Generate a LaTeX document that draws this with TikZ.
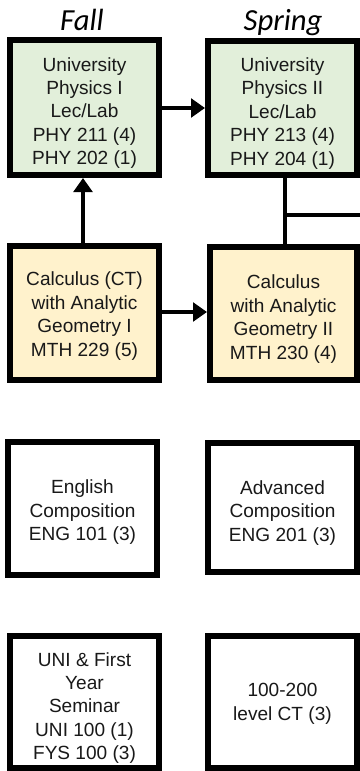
\documentclass[tikz,border=0pt]{standalone}
\usepackage{fontspec}
\setmainfont{Liberation Sans}
\newfontfamily\headfont{Carlito}
\usetikzlibrary{arrows.meta}
\definecolor{physgreen}{HTML}{E2EFDA}
\definecolor{calcyellow}{HTML}{FFF2CC}
\tikzset{
  course/.style={draw=black, line width=4.5pt, inner sep=0pt},
  coursetext/.style={align=center, inner sep=0pt,
    font=\fontsize{14.3}{17.6}\selectfont, text=black!90},
  semester/.style={font=\headfont\itshape\fontsize{23}{25}\selectfont, inner sep=0pt},
  link/.style={line width=2.6pt, -{Triangle[length=10.5pt,width=14pt]}},
  plainlink/.style={line width=2.6pt}
}
\begin{document}
\begin{tikzpicture}[x=0.75pt,y=-0.75pt]
\useasboundingbox (0,0) rectangle (360,771);
\fill[white] (0,0) rectangle (360,771);
% headings
\node[semester, anchor=base] (fall) at (82,31) {Fall};
\node[semester, anchor=base] (spring) at (283,31) {Spring};
% course boxes
\node[course, fill=physgreen, minimum width=149*0.75pt, minimum height=135*0.75pt] (p1) at (84.5,107.5) {};
\node[course, fill=physgreen, minimum width=149*0.75pt, minimum height=134*0.75pt] (p2) at (282.5,108) {};
\node[course, fill=calcyellow, minimum width=149*0.75pt, minimum height=134*0.75pt] (c1) at (84.5,313) {};
\node[course, fill=calcyellow, minimum width=147*0.75pt, minimum height=133*0.75pt] (c2) at (283.5,313.5) {};
\node[course, fill=white, minimum width=149*0.75pt, minimum height=133*0.75pt] (e1) at (82.5,508.5) {};
\node[course, fill=white, minimum width=149*0.75pt, minimum height=129*0.75pt] (e2) at (282.5,507.5) {};
\node[course, fill=white, minimum width=149*0.75pt, minimum height=132*0.75pt] (u1) at (84.5,702) {};
\node[course, fill=white, minimum width=149*0.75pt, minimum height=132*0.75pt] (u2) at (282.5,702) {};
% course texts
\node[coursetext] (p1t) at (84.5,113) {University\\Physics I\\Lec/Lab\\PHY 211 (4)\\PHY 202 (1)};
\node[coursetext] (p2t) at (282.5,113.5) {University\\Physics II\\Lec/Lab\\PHY 213 (4)\\PHY 204 (1)};
\node[coursetext] (c1t) at (84.5,316) {Calculus (CT)\\with Analytic\\Geometry I\\MTH 229 (5)};
\node[coursetext] (c2t) at (283.5,319) {Calculus\\with Analytic\\Geometry II\\MTH 230 (4)};
\node[coursetext] (e1t) at (82.5,512.5) {English\\Composition\\ENG 101 (3)};
\node[coursetext] (e2t) at (282.5,513) {Advanced\\Composition\\ENG 201 (3)};
\node[coursetext] (u1t) at (84.5,708) {UNI \& First\\Year\\Seminar\\UNI 100 (1)\\FYS 100 (3)};
\node[coursetext] (u2t) at (282.5,704) {100-200\\level CT (3)};
% connectors
\draw[link] (p1.east |- 0,108) -- (p2.west |- 0,108);
\draw[link] (c1.north -| 83,0) -- (p1.south -| 83,0);
\draw[link] (c1.east |- 0,312) -- (c2.west |- 0,312);
\coordinate (jn) at (285,215);
\coordinate (offright) at (364,215);
\draw[plainlink] (p2.south -| jn) -- (c2.north -| jn);
\draw[plainlink] (jn) -- (offright);
\end{tikzpicture}
\end{document}
